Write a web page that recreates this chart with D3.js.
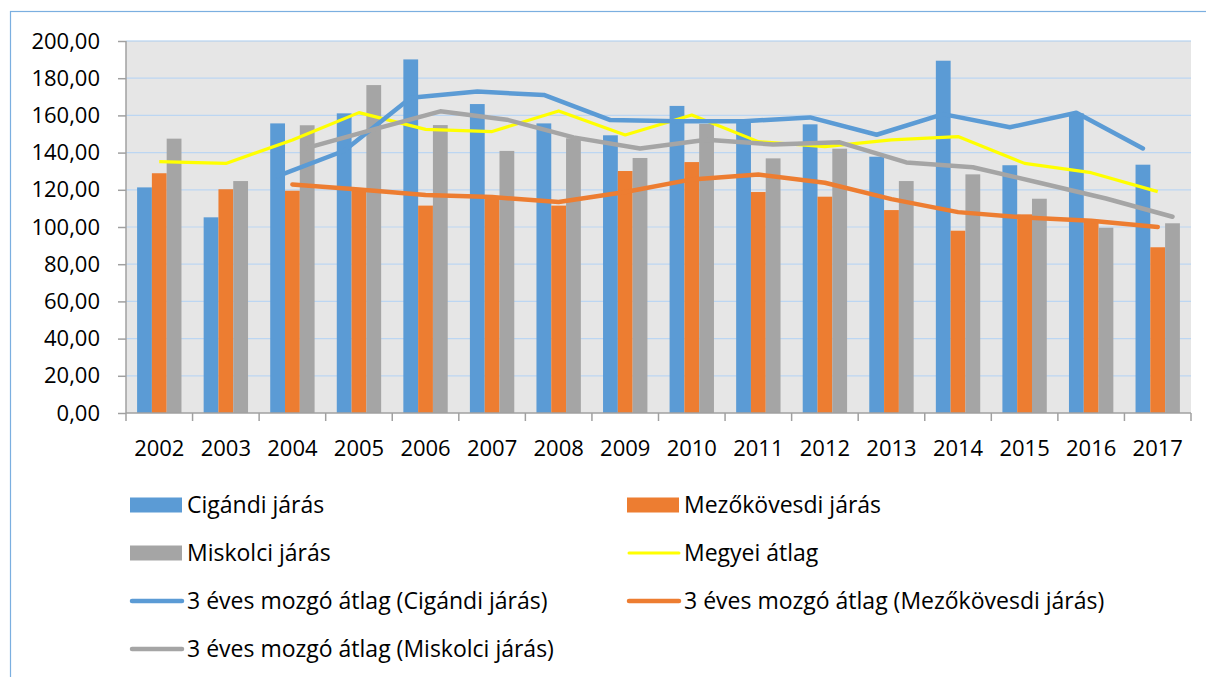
<!DOCTYPE html>
<html>
<head>
<meta charset="utf-8">
<script src="https://cdn.jsdelivr.net/npm/d3@7"></script>
<style>
    html, body { margin: 0; padding: 0; background: #fff; }
    svg text { font-family: "Open Sans", "Noto Sans", sans-serif; fill: #000; }
</style>
</head>
<body>
<svg id="chart" width="1206" height="677"></svg>
<script>
    // Values (years 2002 - 2017)
    const years = d3.range(2002, 2018);

    const bars = [
        { key: 'cig',  name: 'Cigándi járás',     color: '#5b9bd5',
          values: [121.3, 105.2, 155.7, 161.1, 190.1, 166.1, 155.7, 149.3, 165.1, 156.1, 155.2, 137.8, 189.4, 133.2, 161.1, 133.5] },
        { key: 'mezo', name: 'Mezőkövesdi járás', color: '#ed7d31',
          values: [128.9, 120.3, 119.5, 120.5, 111.5, 116.3, 111.5, 130.1, 134.9, 118.8, 116.3, 109.1, 98.0, 106.8, 103.8, 89.1] },
        { key: 'misk', name: 'Miskolci járás',    color: '#a5a5a5',
          values: [147.5, 124.7, 154.7, 176.3, 154.8, 140.9, 147.7, 137.1, 155.4, 136.9, 142.1, 124.7, 128.3, 115.2, 99.6, 102.0] }
    ];

    const megyei = {
        name: 'Megyei átlag', color: '#ffff00', width: 3.2,
        values: [135.1, 134.2, 146.8, 161.5, 152.5, 151.3, 162.4, 149.5, 160.2, 145.9, 143.2, 146.8, 148.6, 134.2, 129.2, 119.0]
    };

    // Moving averages (trendlines) sit on the bar of their own series
    const trends = [
        { key: 'cig',  name: '3 éves mozgó átlag (Cigándi járás)',     color: '#5b9bd5',
          values: [null, null, 127.4, 141.0, 169.5, 172.8, 171.0, 157.5, 156.8, 156.9, 158.9, 149.6, 160.7, 153.6, 161.4, 142.2] },
        { key: 'mezo', name: '3 éves mozgó átlag (Mezőkövesdi járás)', color: '#ed7d31',
          values: [null, null, 122.9, 120.2, 117.2, 116.1, 113.4, 118.8, 125.6, 128.2, 123.8, 115.0, 108.0, 105.1, 103.3, 100.0] },
        { key: 'misk', name: '3 éves mozgó átlag (Miskolci járás)',    color: '#a5a5a5',
          values: [null, null, 142.5, 152.5, 162.2, 157.7, 148.2, 142.2, 146.9, 144.4, 145.5, 134.7, 132.1, 123.8, 115.3, 105.5] }
    ];

    const svg = d3.select('#chart');

    // outer chart frame
    svg.append('rect')
        .attr('x', 10.5).attr('y', 11.5)
        .attr('width', 1206).attr('height', 700)
        .attr('fill', 'none')
        .attr('stroke', '#7bafe0')
        .attr('stroke-width', 1.2);

    const margin = { left: 126, top: 41, right: 15, bottom: 264 };
    const w = 1206 - margin.left - margin.right,
          h = 677 - margin.top - margin.bottom;

    const g = svg.append('g')
        .attr('transform', 'translate(' + margin.left + ',' + margin.top + ')');

    const x = d3.scaleBand().domain(years).range([0, w]).paddingInner(0).paddingOuter(0);
    // gap width 150% -> 3 bars + 1.5 bar widths per category
    const barW = x.bandwidth() / 4.5;
    const xSub = d3.scaleBand().domain(bars.map(d => d.key))
        .range([barW * 0.75, barW * 3.75]);
    const y = d3.scaleLinear().domain([0, 200]).range([h, 0]);

    // plot background
    g.append('rect')
        .attr('width', w).attr('height', h)
        .attr('fill', '#e6e6e6');

    // horizontal grid
    g.append('g').attr('class', 'grid')
        .selectAll('line')
        .data(d3.range(20, 201, 20))
        .enter().append('line')
            .attr('x1', 0).attr('x2', w)
            .attr('y1', d => y(d)).attr('y2', d => y(d))
            .attr('stroke', d => d === 200 ? '#a9cbee' : '#bcd6f2')
            .attr('stroke-width', 1.2);

    // bars
    const groups = g.selectAll('.data-block').data(bars)
        .enter().append('g').attr('class', 'data-block')
        .attr('fill', d => d.color);

    groups.selectAll('rect')
        .data(d => d.values.map((v, i) => ({ key: d.key, year: years[i], value: v })))
        .enter().append('rect')
            .attr('x', d => x(d.year) + xSub(d.key))
            .attr('y', d => y(d.value))
            .attr('width', xSub.bandwidth())
            .attr('height', d => h - y(d.value));

    // county average line on the category centre
    const line = d3.line()
        .defined(d => d.value != null)
        .x(d => d.x)
        .y(d => y(d.value));

    g.append('path')
        .datum(megyei.values.map((v, i) => ({ x: x(years[i]) + x.bandwidth() / 2, value: v })))
        .attr('d', line)
        .attr('fill', 'none')
        .attr('stroke', megyei.color)
        .attr('stroke-width', megyei.width)
        .attr('stroke-linejoin', 'round');

    // moving averages
    g.selectAll('.trend').data(trends)
        .enter().append('path')
            .attr('class', 'trend')
            .attr('d', d => line(d.values.map((v, i) => ({
                x: x(years[i]) + xSub(d.key) + xSub.bandwidth() / 2, value: v
            }))))
            .attr('fill', 'none')
            .attr('stroke', d => d.color)
            .attr('stroke-width', 4.5)
            .attr('stroke-linecap', 'round')
            .attr('stroke-linejoin', 'round');

    // Axes
    const yAxis = g.append('g').attr('class', 'y-axis')
        .call(d3.axisLeft(y)
            .tickValues(d3.range(0, 201, 20))
            .tickSize(8)
            .tickPadding(18)
            .tickFormat(d => d3.format('.2f')(d).replace('.', ',')));

    const xAxis = g.append('g').attr('class', 'x-axis')
        .attr('transform', 'translate(0,' + h + ')')
        .call(d3.axisBottom(x).tickSize(0).tickPadding(27));

    // category boundary ticks
    xAxis.selectAll('.boundary')
        .data(years.concat([null]))
        .enter().append('line')
            .attr('class', 'boundary')
            .attr('x1', d => d == null ? w : x(d))
            .attr('x2', d => d == null ? w : x(d))
            .attr('y1', 0).attr('y2', 8);

    [yAxis, xAxis].forEach(a => {
        a.selectAll('.domain').attr('stroke', '#a0a0a0').attr('stroke-width', 1.5);
        a.selectAll('line').attr('stroke', '#a0a0a0').attr('stroke-width', 1.5);
        a.selectAll('text').attr('font-size', 22).attr('fill', '#000')
            .style('font-family', '"Open Sans", sans-serif');
    });
    xAxis.select('.domain').attr('d', 'M0,0H' + w);
    yAxis.select('.domain').attr('d', 'M0,0V' + h);

    // Legend
    const legendItems = [
        { name: bars[0].name, color: bars[0].color, type: 'rect' },
        { name: bars[1].name, color: bars[1].color, type: 'rect' },
        { name: bars[2].name, color: bars[2].color, type: 'rect' },
        { name: megyei.name, color: megyei.color, type: 'line', width: 3 },
        { name: trends[0].name, color: trends[0].color, type: 'line', width: 4.5 },
        { name: trends[1].name, color: trends[1].color, type: 'line', width: 4.5 },
        { name: trends[2].name, color: trends[2].color, type: 'line', width: 4.5 }
    ];
    const colX = [130, 627],
          rowY = [505, 553, 601, 649];

    const legend = svg.append('g').attr('class', 'legend')
        .selectAll('g')
        .data(legendItems)
        .enter().append('g')
            .attr('transform', (d, i) => 'translate(' + colX[i % 2] + ',' + rowY[Math.floor(i / 2)] + ')');

    legend.filter(d => d.type === 'rect').append('rect')
        .attr('x', 0).attr('y', -7.5)
        .attr('width', 52).attr('height', 15)
        .attr('fill', d => d.color);

    legend.filter(d => d.type === 'line').append('line')
        .attr('x1', 2).attr('x2', 52)
        .attr('y1', 0).attr('y2', 0)
        .attr('stroke', d => d.color)
        .attr('stroke-width', d => d.width)
        .attr('stroke-linecap', 'round');

    legend.append('text')
        .attr('x', 57)
        .attr('dy', '0.36em')
        .attr('font-size', 23)
        .text(d => d.name);
</script>
</body>
</html>
